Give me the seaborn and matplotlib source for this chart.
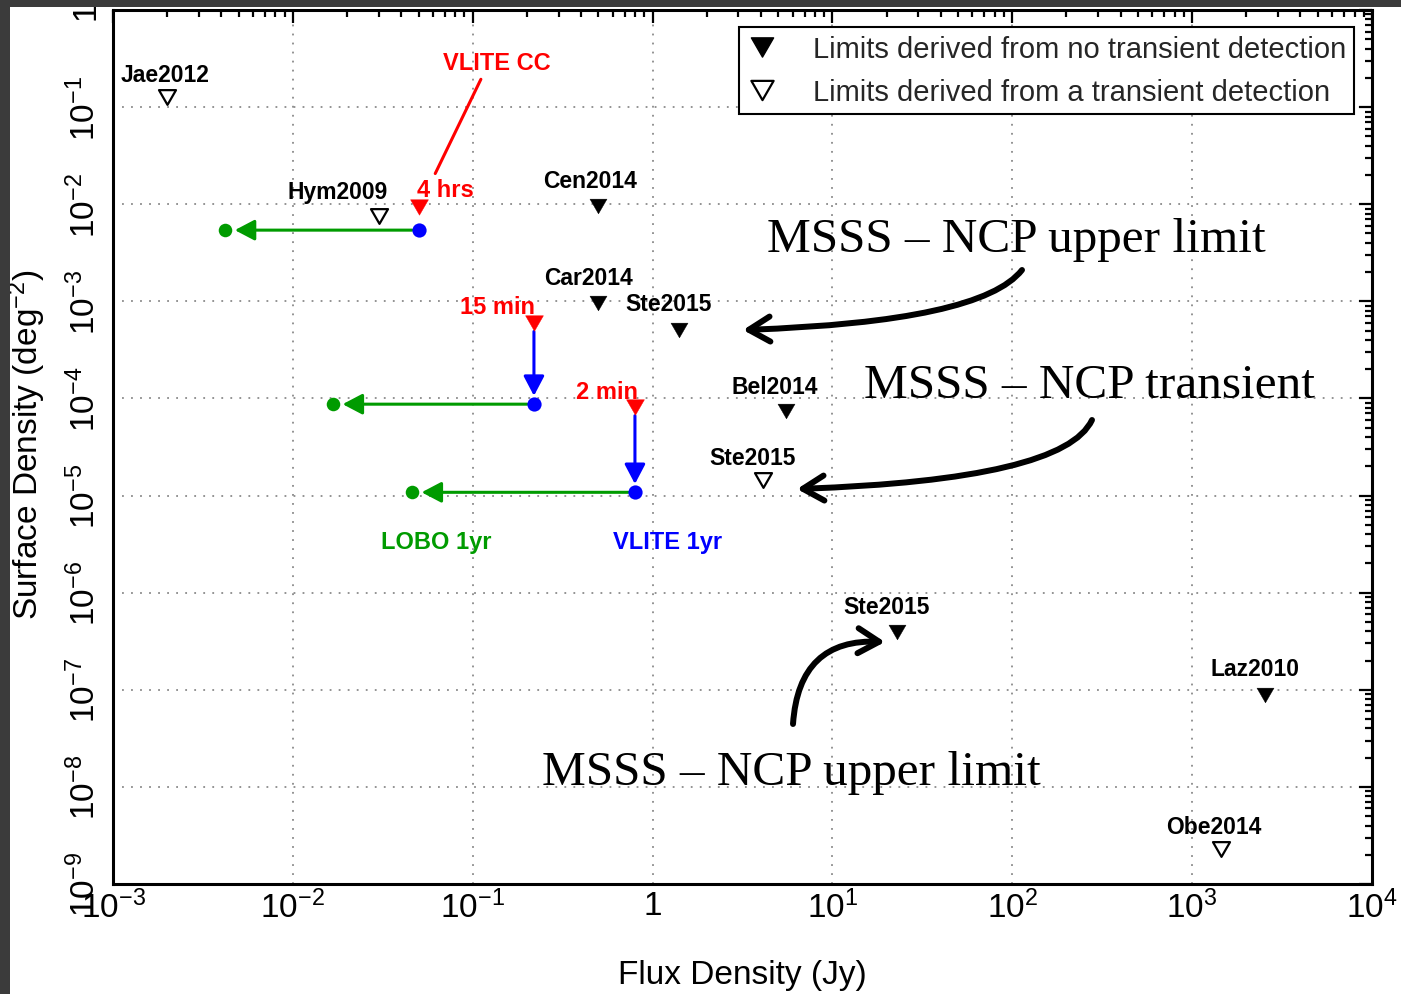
import numpy as np
import pandas as pd
import matplotlib
matplotlib.use("Agg")
import matplotlib.pyplot as plt
from matplotlib.lines import Line2D
from matplotlib.patches import Rectangle
from matplotlib.path import Path
from matplotlib.ticker import FixedLocator, LogLocator, NullFormatter
import seaborn as sns

# ---------------------------------------------------------------- data
# Published transient surface-density limits
survey_names = ["Jae2012", "Hym2009", "Cen2014", "Car2014", "Ste2015",
                "Bel2014", "Ste2015", "Ste2015", "Laz2010", "Obe2014"]
survey_flux = [2.0e-3, 3.0e-2, 0.50, 0.50, 1.40, 5.5, 4.1, 22.9, 2540.0, 1446.0]
survey_density = [1.27e-1, 7.5e-3, 9.6e-3, 9.6e-4, 5.05e-4, 7.4e-5, 1.44e-5,
                  3.9e-7, 8.8e-8, 2.3e-9]
survey_detected = [True, True, False, False, False, False, True, False, False, True]

# VLITE commensal cadences and the one-year projections
vlite_cadence = ["4 hrs", "15 min", "2 min"]
vlite_flux = [0.0502, 0.219, 0.798]
vlite_density = [9.3e-3, 5.96e-4, 8.1e-5]
vlite_year_density = [5.41e-3, 8.73e-5, 1.08e-5]
vlite_drop = [False, True, True]
lobo_flux = [4.2e-3, 0.0167, 0.0459]

x_ticks = [1e-3, 1e-2, 1e-1, 1.0, 1e1, 1e2, 1e3, 1e4]
x_tick_labels = [r"$10^{-3}$", r"$10^{-2}$", r"$10^{-1}$", "1",
                 r"$10^{1}$", r"$10^{2}$", r"$10^{3}$", r"$10^{4}$"]
y_ticks = [1e-9, 1e-8, 1e-7, 1e-6, 1e-5, 1e-4, 1e-3, 1e-2, 1e-1, 1.0]
y_tick_labels = [r"$10^{-9}$", r"$10^{-8}$", r"$10^{-7}$", r"$10^{-6}$", r"$10^{-5}$",
                 r"$10^{-4}$", r"$10^{-3}$", r"$10^{-2}$", r"$10^{-1}$", "1"]
legend_labels = ["Limits derived from no transient detection",
                 "Limits derived from a transient detection"]

# ---------------------------------------------------------------- style
sns.set_style("white")
plt.rcParams["font.family"] = ["Liberation Sans", "DejaVu Sans"]
plt.rcParams["mathtext.fontset"] = "custom"
plt.rcParams["mathtext.rm"] = "Liberation Sans"
plt.rcParams["mathtext.it"] = "Liberation Sans:italic"
plt.rcParams["mathtext.bf"] = "Liberation Sans:bold"

RED, BLUE, GREEN = "#ff0000", "#0000ff", "#009b00"
# closed downward-pointing triangle used for every upper-limit symbol
TRI = Path([[-1.0, 0.866], [1.0, 0.866], [0.0, -0.866], [-1.0, 0.866]], closed=True)

W, H = 1401, 995
fig = plt.figure(figsize=(W / 100, H / 100), dpi=100)
AX_L, AX_R, AX_T, AX_B = 113, 1372, 11, 885
ax = fig.add_axes([AX_L / W, (H - AX_B) / H, (AX_R - AX_L) / W, (AX_B - AX_T) / H])


def axfrac(px, py):
    return ((px - AX_L) / (AX_R - AX_L), (AX_B - py) / (AX_B - AX_T))


ax.set_xscale("log")
ax.set_yscale("log")
ax.set_xlim(1e-3, 1e4)
ax.set_ylim(1e-9, 1.0)

# ---------------------------------------------------------------- marks
surveys = pd.DataFrame({"name": survey_names, "flux": survey_flux,
                        "density": survey_density, "detected": survey_detected})
sns.scatterplot(data=surveys[~surveys["detected"]], x="flux", y="density",
                marker=TRI, s=150, color="black", edgecolor="black",
                linewidth=0.3, zorder=6, legend=False, ax=ax)
sns.scatterplot(data=surveys[surveys["detected"]], x="flux", y="density",
                marker=TRI, s=150, facecolor="white", edgecolor="black",
                linewidth=1.6, zorder=6, legend=False, ax=ax)

vlite = pd.DataFrame({"cadence": vlite_cadence, "flux": vlite_flux,
                      "density": vlite_density, "year": vlite_year_density,
                      "lobo": lobo_flux})
sns.scatterplot(data=vlite, x="flux", y="density", marker=TRI, s=165,
                color=RED, edgecolor=RED, linewidth=0.3, zorder=6, legend=False, ax=ax)
sns.scatterplot(data=vlite, x="flux", y="year", marker="o", s=105,
                color=BLUE, edgecolor=BLUE, linewidth=0, zorder=6, legend=False, ax=ax)
sns.scatterplot(data=vlite, x="lobo", y="year", marker="o", s=95,
                color=GREEN, edgecolor=GREEN, linewidth=0, zorder=6, legend=False, ax=ax)

# arrows: VLITE 1yr -> LOBO 1yr, and cadence limits -> VLITE 1yr
for row in vlite.itertuples():
    ax.annotate("", xy=(row.lobo, row.year), xytext=(row.flux, row.year),
                arrowprops=dict(arrowstyle="-|>,head_length=0.8,head_width=0.42",
                                color=GREEN, lw=2.2, shrinkA=5, shrinkB=7,
                                mutation_scale=15), zorder=4)
for row, drop in zip(vlite.itertuples(), vlite_drop):
    if drop:
        ax.annotate("", xy=(row.flux, row.year), xytext=(row.flux, row.density),
                    arrowprops=dict(arrowstyle="-|>,head_length=0.8,head_width=0.42",
                                    color=BLUE, lw=2.2, shrinkA=6, shrinkB=6,
                                    mutation_scale=15), zorder=4)

# ---------------------------------------------------------------- labels
name_offsets = [(-2, 24), (-41, 26), (-8, 27), (-10, 27), (-10, 28),
                (-11, 26), (-10, 24), (-11, 27), (-10, 28), (-7, 24)]
for row, (dx, dy) in zip(surveys.itertuples(), name_offsets):
    ax.annotate(row.name, xy=(row.flux, row.density), xytext=(dx, dy - 8),
                textcoords="offset pixels", ha="center", va="baseline",
                fontsize=16.5, fontweight="bold", color="black", zorder=7)

cadence_offsets = [(26, 19), (-36, 18), (-28, 17)]
for row, (dx, dy) in zip(vlite.itertuples(), cadence_offsets):
    ax.annotate(row.cadence, xy=(row.flux, row.density), xytext=(dx, dy - 8),
                textcoords="offset pixels", ha="center", va="baseline",
                fontsize=17, fontweight="bold", color=RED, zorder=7)

first = vlite.iloc[0]
ax.annotate("VLITE CC", xy=(first.flux, first.density), xytext=(78, 146 - 8),
            textcoords="offset pixels", ha="center", va="baseline",
            fontsize=17, fontweight="bold", color=RED, zorder=7)
ax.annotate("", xy=(first.flux, first.density), xytext=(62, 128),
            textcoords="offset pixels",
            arrowprops=dict(arrowstyle="-", color=RED, lw=2.2, shrinkA=0, shrinkB=27),
            zorder=7)

last = vlite.iloc[-1]
ax.annotate("LOBO 1yr", xy=(last.lobo, last.year), xytext=(24, -48 - 8),
            textcoords="offset pixels", ha="center", va="baseline",
            fontsize=17, fontweight="bold", color=GREEN, zorder=7)
ax.annotate("VLITE 1yr", xy=(last.flux, last.year), xytext=(33, -48 - 8),
            textcoords="offset pixels", ha="center", va="baseline",
            fontsize=17, fontweight="bold", color=BLUE, zorder=7)

# ---------------------------------------------------------------- MSSS call-outs
serif = ["Liberation Serif", "DejaVu Serif"]
callouts = [
    ("MSSS \u2013 NCP upper limit", (1016, 252), (1022, 271), (743, 331),
     "angle3,angleA=52,angleB=2"),
    ("MSSS \u2013 NCP transient", (1090, 398), (1092, 421), (797, 490),
     "angle3,angleA=65,angleB=2"),
    ("MSSS \u2013 NCP upper limit", (791, 785), (793, 725), (885, 643),
     "arc3,rad=-0.49"),
]
for text, tpos, tail, head, conn in callouts:
    ax.text(*axfrac(*tpos), text, transform=ax.transAxes, ha="center",
            va="baseline", fontsize=35.5, family=serif, color="black", zorder=7)
    ax.annotate("", xy=axfrac(*head), xycoords="axes fraction",
                xytext=axfrac(*tail), textcoords="axes fraction",
                arrowprops=dict(arrowstyle="->,head_length=0.76,head_width=0.45",
                                lw=4.3, color="black", connectionstyle=conn,
                                shrinkA=0, shrinkB=0, mutation_scale=20,
                                capstyle="round", joinstyle="round"),
                zorder=7)

# ---------------------------------------------------------------- axes
ax.xaxis.set_major_locator(FixedLocator(x_ticks))
ax.yaxis.set_major_locator(FixedLocator(y_ticks))
ax.xaxis.set_minor_locator(LogLocator(base=10, subs=np.arange(2, 10), numticks=100))
ax.yaxis.set_minor_locator(LogLocator(base=10, subs=np.arange(2, 10), numticks=100))
ax.xaxis.set_minor_formatter(NullFormatter())
ax.yaxis.set_minor_formatter(NullFormatter())
ax.set_xticklabels(x_tick_labels)
ax.set_yticklabels(y_tick_labels, rotation=90, va="center")

ax.tick_params(which="both", direction="in", top=True, right=True,
               width=1.6, color="black")
ax.tick_params(which="major", length=9.5, labelsize=24, labelcolor="black")
ax.tick_params(which="minor", length=5)
ax.tick_params(axis="x", which="major", pad=4)
ax.tick_params(axis="y", which="major", pad=8)
for side in ax.spines.values():
    side.set_linewidth(2.2)
    side.set_color("black")

ax.grid(True, which="major", linestyle=(0, (1, 4)), color="#8a8a8a", lw=1.3)
ax.grid(False, which="minor")

ax.set_xlabel("Flux Density (Jy)", fontsize=24, color="black")
ax.xaxis.set_label_coords(0.5, axfrac(0, 960)[1])
ax.set_ylabel("Surface Density (deg$^{-2}$)", fontsize=24, color="black")
ax.yaxis.set_label_coords(axfrac(48, 0)[0], axfrac(0, 445)[1])

# ---------------------------------------------------------------- legend
handles = [
    Line2D([], [], ls="none", marker=TRI, ms=16, mfc="black", mec="black"),
    Line2D([], [], ls="none", marker=TRI, ms=16, mfc="white", mec="black", mew=1.6),
]
leg = ax.legend(handles, legend_labels, loc="upper right",
                bbox_to_anchor=axfrac(1354, 28), bbox_transform=ax.transAxes,
                frameon=True, fancybox=False, framealpha=1, edgecolor="black",
                fontsize=21, handlelength=1.0, handletextpad=1.25,
                borderpad=0.28, labelspacing=0.5, borderaxespad=0)
leg.get_frame().set_linewidth(1.5)
leg.set_zorder(8)

# dark frame around the figure
fig.add_artist(Rectangle((0, 0), 10 / W, 1, transform=fig.transFigure,
                         facecolor="#3b3b3b", edgecolor="none", zorder=20))
fig.add_artist(Rectangle((0, 1 - 8 / H), 1, 8 / H, transform=fig.transFigure,
                         facecolor="#3b3b3b", edgecolor="none", zorder=20))

fig.savefig("out.png", dpi=100)
